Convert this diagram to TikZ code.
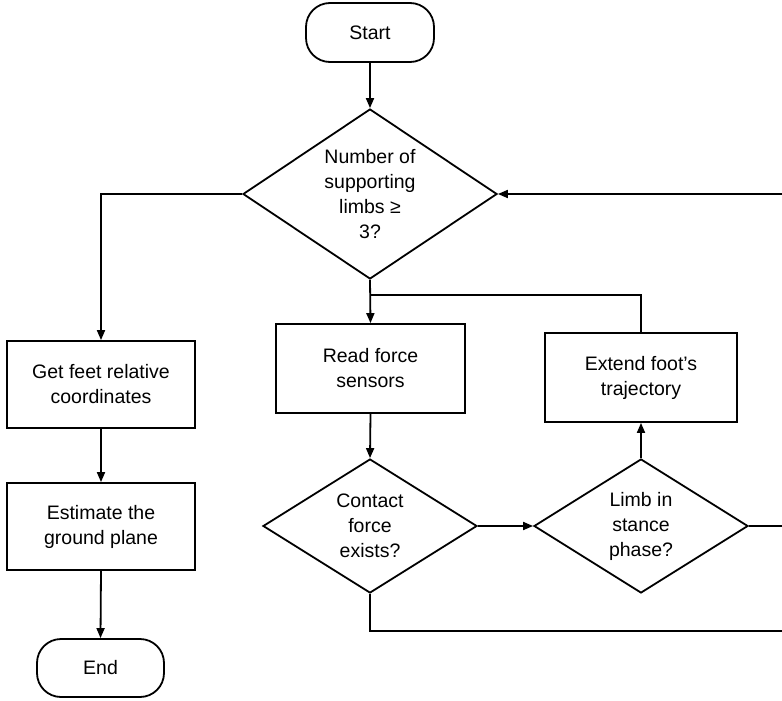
\documentclass[tikz,border=0pt]{standalone}
\usepackage{fontspec}
\setmainfont{Liberation Sans}
\usetikzlibrary{shapes.geometric,arrows.meta}
\begin{document}
\begin{tikzpicture}[x=1pt,y=-1pt,line width=1.8pt,
  txt/.style={font=\fontsize{19.5}{25}\selectfont, align=center, inner sep=0pt},
  proc/.style={draw, rectangle, inner sep=0pt, txt},
  term/.style={draw, rectangle, rounded corners=24pt, inner sep=0pt, txt},
  decision/.style={draw, diamond, inner sep=0pt},
  flow/.style={-{Triangle[length=10pt,width=8pt]}}]
\useasboundingbox (0,0) rectangle (782,701);
% nodes
\node[term, minimum width=128pt, minimum height=59pt] (start) at (370,32.5) {Start};
\node[decision, minimum width=254pt, minimum height=170pt] (d1) at (370,194) {};
\node[txt] (d1t) at (d1.center) {Number of\\supporting\\limbs ≥\\3?};
\node[proc, minimum width=189pt, minimum height=89pt] (read) at (370.5,368.5) {Read force\\sensors};
\node[proc, minimum width=192pt, minimum height=89pt] (extend) at (641,377.5) {Extend foot’s\\trajectory};
\node[proc, minimum width=188pt, minimum height=87pt] (get) at (101,384.5) {Get feet relative\\coordinates};
\node[proc, minimum width=188pt, minimum height=87pt] (est) at (101,526.5) {Estimate the\\ground plane};
\node[term, minimum width=127pt, minimum height=58pt] (end) at (100.5,668) {End};
\node[decision, minimum width=214pt, minimum height=134pt] (d2) at (370,526) {};
\node[txt] (d2t) at (d2.center) {Contact\\force\\exists?};
\node[decision, minimum width=214pt, minimum height=134pt] (d3) at (641,526) {};
\node[txt] (d3t) at (d3.center) {Limb in\\stance\\phase?};
% free ends
\coordinate (j) at (370,295);
\coordinate (r1) at (782,194);
\coordinate (r2) at (782,526);
\coordinate (r3) at (782,631);
% connectors
\draw[flow] (start.south) -- (d1.north);
\draw[flow] (d1.west) -| (get.north);
\draw[flow] (get.south) -- (est.north);
\draw[flow] (est.south) -- (end.north);
\draw[flow] (d1.south) -- (read.north);
\draw (j) -| (extend.north);
\draw[flow] (read.south) -- (d2.north);
\draw[flow] (d2.east) -- (d3.west);
\draw[flow] (d3.north) -- (extend.south);
\draw (d3.east) -- (r2);
\draw (d2.south) |- (r3);
\draw[flow] (r1) -- (d1.east);
\end{tikzpicture}
\end{document}
